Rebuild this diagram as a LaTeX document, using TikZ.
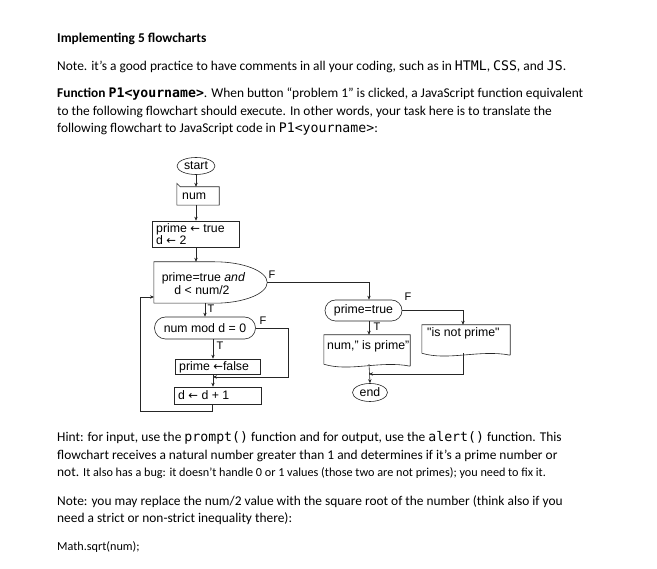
\documentclass[tikz,border=0pt]{standalone}
\usepackage{fontspec}
\setmainfont{Carlito}
\newfontfamily\flowfont{Liberation Sans}
\newfontfamily\monofont{DejaVu Sans Mono}
\newfontfamily\arrfont{DejaVu Sans}
\usetikzlibrary{arrows.meta,shapes.geometric,calc}
\newcommand\codetxt[1]{{\monofont\fontsize{13.2}{15}\selectfont #1}}
\newcommand\larr{{\arrfont\fontsize{11.5}{12}\selectfont ←}}
\begin{document}
\begin{tikzpicture}[x=1pt,y=-1pt,
  txt/.style={anchor=base west,inner sep=0,font=\fontsize{13.4}{16}\selectfont},
  fl/.style={inner sep=0,font=\flowfont\fontsize{12.3}{14}\selectfont},
  flt/.style={fl,anchor=base west,text height=8.8,text depth=2.4},
  flc/.style={fl,anchor=base,text height=8.8,text depth=2.4},
  lab/.style={inner sep=0,font=\flowfont\fontsize{11}{13}\selectfont},
  ln/.style={draw=black!85,line width=0.6pt},
  box/.style={ln,inner sep=0},
  arr/.style={ln,-{Stealth[length=4pt,width=3.4pt]}}
]
\useasboundingbox[fill=white] (0,0) rectangle (657,569);

% ---------- text above ----------
\node[txt,font=\bfseries\fontsize{13.4}{16}\selectfont] (head) at (57,43) {Implementing 5 flowcharts};
\node[txt] (p1) at (57,70.5) {Note. it’s a good practice to have comments in all your coding, such as in \codetxt{HTML}, \codetxt{CSS}, and \codetxt{JS}.};
\node[txt] (p2a) at (57,98) {\textbf{Function \codetxt{P1<yourname>}}. When button “problem 1” is clicked, a JavaScript function equivalent};
\node[txt] (p2b) at (57,115.5) {to the following flowchart should execute. In other words, your task here is to translate the};
\node[txt] (p2c) at (57,133) {following flowchart to JavaScript code in \codetxt{P1<yourname>}:};

% ---------- text below ----------
\node[txt] (h1) at (57,442) {Hint: for input, use the \codetxt{prompt()} function and for output, use the \codetxt{alert()} function. This};
\node[txt] (h2) at (57,459.5) {flowchart receives a natural number greater than 1 and determines if it’s a prime number or};
\node[txt] (h3) at (57,477) {not. {\fontsize{12.2}{14}\selectfont It also has a bug: it doesn’t handle 0 or 1 values (those two are not primes); you need to fix it.}};
\node[txt] (n1) at (57,505.5) {Note: you may replace the num/2 value with the square root of the number (think also if you};
\node[txt] (n2) at (57,523) {need a strict or non-strict inequality there):};
\node[txt,font=\fontsize{12.2}{14}\selectfont] (n3) at (57,551) {Math.sqrt(num);};

% ---------- flowchart shapes ----------
\node[fl,ln,draw,ellipse,minimum width=38,minimum height=17] (start) at (196,166) {start};

\node[inner sep=0,minimum width=42,minimum height=18] (numbox) at (198,196) {};
\draw[ln] (numbox.south west) -- ([yshift=3.5]numbox.north west) -- ([xshift=3.5]numbox.north west)
  -- (numbox.north east) -- (numbox.south east) -- cycle;
\node[flt] (numtxt) at (182,200) {num};

\node[box,draw,minimum width=87,minimum height=26] (init) at (195.5,234) {};
\node[flt] (init1) at (156,232.5) {prime \larr\ true};
\node[flt] (init2) at (156,245) {d \larr\ 2};

\node[inner sep=0,minimum width=113,minimum height=41] (dec1) at (210.5,282.5) {};
\draw[ln] (dec1.north west) -- ([xshift=61]dec1.north west)
  .. controls +(28.7,0) and +(0,-11.3) .. (dec1.east)
  .. controls +(0,11.3) and +(28.7,0) .. ([xshift=61]dec1.south west)
  -- (dec1.south west) -- cycle;
\node[flc] (dec1a) at (203.5,282) {prime=true \textit{and}};
\node[flc] (dec1b) at (202,295) {d < num/2};

\node[fl,box,draw,rounded corners=11,minimum width=101,minimum height=22] (nummod) at (205,328) {num mod d = 0};

\node[box,draw,minimum width=85,minimum height=15] (pfalse) at (217.5,366.5) {};
\node[flt] (pfalsetxt) at (179,370.5) {prime \larr false};

\node[box,draw,minimum width=87,minimum height=17] (dinc) at (217.5,395.5) {};
\node[flt] (dinctxt) at (178,400) {d \larr\ d + 1};

\node[fl,box,draw,rounded corners=10.5,minimum width=77,minimum height=21] (ptrue) at (363.5,310.5) {prime=true};

\node[inner sep=0,minimum width=86,minimum height=29] (numdoc) at (367,349.5) {};
\draw[ln] ([yshift=-2]numdoc.south east) -- (numdoc.north east) -- (numdoc.north west) -- (numdoc.south west)
  .. controls +(26,8) and +(-30,-6) .. ([yshift=-2]numdoc.south east);
\node[flt] (numdoctxt) at (327,349.5) {num,” is prime”};

\node[inner sep=0,minimum width=88,minimum height=28] (notdoc) at (466,339) {};
\draw[ln] ([yshift=-2]notdoc.south east) -- (notdoc.north east) -- (notdoc.north west) -- (notdoc.south west)
  .. controls +(26,8) and +(-30,-6) .. ([yshift=-2]notdoc.south east);
\node[flt] (notdoctxt) at (427,336.5) {"is not prime"};

\node[fl,ln,draw,ellipse,minimum width=35,minimum height=18] (end) at (370,392.5) {end};

% ---------- connectors ----------
\coordinate (m1) at (213,377);
\coordinate (m2) at (369,374);
\coordinate (loopin) at (154,297);

\draw[arr] (start.south) -- (start.south |- numbox.north);
\draw[arr] (start.south |- numbox.south) -- (start.south |- init.north);
\draw[arr] (start.south |- init.south) -- (start.south |- dec1.north);
\draw[arr] (nummod.north |- dec1.south) -- (nummod.north);
\draw[arr] (m1 |- nummod.south) -- (m1 |- pfalse.north);
\draw[arr] (m1 |- pfalse.south) -- (m1 |- dinc.north);
\draw[arr] (nummod.east) -- ++(32,0) |- (m1);
\draw[arr] ([xshift=-5.5]dinc.south) -- ++(0,7) -| ([xshift=-14]loopin) -- (loopin);

\draw[arr] (dec1.east) -| (m2 |- ptrue.north);
\draw[arr] (m2 |- ptrue.south) -- (m2 |- numdoc.north);
\draw[arr] (ptrue.east) -| ([xshift=-3]notdoc.north);
\draw[arr] (m2 |- numdoc.south) -- (end.north);
\draw[arr] ([xshift=-3]notdoc.south) |- (m2);

% ---------- labels ----------
\node[lab] (lf1) at (272,275) {F};
\node[lab] (lt1) at (211,309) {T};
\node[lab] (lf2) at (263,320.5) {F};
\node[lab] (lt2) at (220,346) {T};
\node[lab] (lf3) at (408,297) {F};
\node[lab] (lt3) at (377,327) {T};
\end{tikzpicture}
\end{document}
